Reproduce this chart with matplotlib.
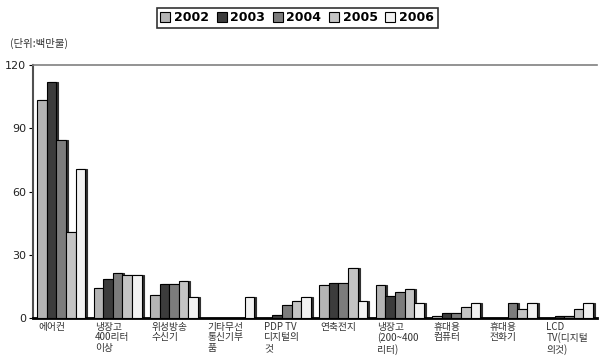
import matplotlib
matplotlib.use("Agg")
import matplotlib.pyplot as plt
import numpy as np

plt.rcParams['font.family'] = ['Noto Sans CJK KR', 'DejaVu Sans']

categories = ["에어컨", "냉장고\n400리터\n이상", "위성방송\n수신기", "기타무선\n통신기부\n품",
              "PDP TV\n디지털의\n것", "연축전지", "냉장고\n(200~400\n리터)", "휴대용\n컴퓨터",
              "휴대용\n전화기", "LCD\nTV(디지털\n의것)"]
years = ["2002", "2003", "2004", "2005", "2006"]
v2002 = [103.5, 14, 11, 0, 0, 15.5, 15.5, 1, 0, 0]
v2003 = [112, 18.5, 16, 0, 1.5, 16.5, 10.5, 2.3, 0, 1]
v2004 = [84.5, 21.5, 16, 0, 6, 16.5, 12.5, 2.3, 7, 1]
v2005 = [41, 20.4, 17.5, 0, 8, 23.5, 13.5, 5, 4, 4]
v2006 = [70.5, 20.4, 10, 10, 9.8, 8, 7, 7, 7, 7]
series = [v2002, v2003, v2004, v2005, v2006]
colors = ["#b4b4b4", "#3c3c3c", "#7c7c7c", "#c4c4c4", "#f2f2f2"]
yticks = [0, 30, 60, 90, 120]

fig = plt.figure(figsize=(5.99, 3.58), dpi=100)
ax = fig.add_axes([0.055, 0.112, 0.942, 0.706])

x = np.arange(len(categories))
w = 0.17
for i, (vals, c) in enumerate(zip(series, colors)):
    pos = x - 0.425 + w * (i + 0.5)
    # depth shadow
    ax.bar(pos + 0.035, vals, width=w, bottom=0, color="#303030", edgecolor="#303030",
           linewidth=0.8, zorder=2)
    ax.bar(pos, vals, width=w, color=c, edgecolor="black", linewidth=0.8, zorder=3,
           label=years[i])

ax.set_xlim(-0.5, len(categories) - 0.5)
ax.set_ylim(0, 120)
ax.set_yticks(yticks)
ax.set_yticklabels([str(t) for t in yticks], fontsize=8, family='DejaVu Sans', color='#222222')
ax.tick_params(axis='y', length=3, width=0.8, pad=2)
ax.set_xticks(x - 0.4)
ax.set_xticklabels(categories, fontsize=7, ha='left', va='top', linespacing=1.05,
                   color='#333333')
ax.tick_params(axis='x', length=0, pad=3)

ax.spines['right'].set_visible(False)
ax.spines['top'].set_color('#808080')
ax.spines['top'].set_linewidth(1.2)
ax.spines['left'].set_linewidth(1.5)
ax.spines['left'].set_color('#505050')
ax.spines['bottom'].set_linewidth(2)
ax.spines['bottom'].set_color('black')

leg = fig.legend(loc='center', bbox_to_anchor=(0.496, 0.95), ncol=5,
                 frameon=True, handlelength=0.8, handleheight=0.8, handletextpad=0.3,
                 columnspacing=0.6, borderpad=0.3, fancybox=False, edgecolor='black',
                 prop={'family': 'DejaVu Sans', 'weight': 'bold', 'size': 9})
leg.get_frame().set_linewidth(1.2)

fig.text(0.017, 0.88, "(단위:백만불)", fontsize=7.5, ha='left', va='center', color='#333333')

fig.savefig("out.png", dpi=100)
